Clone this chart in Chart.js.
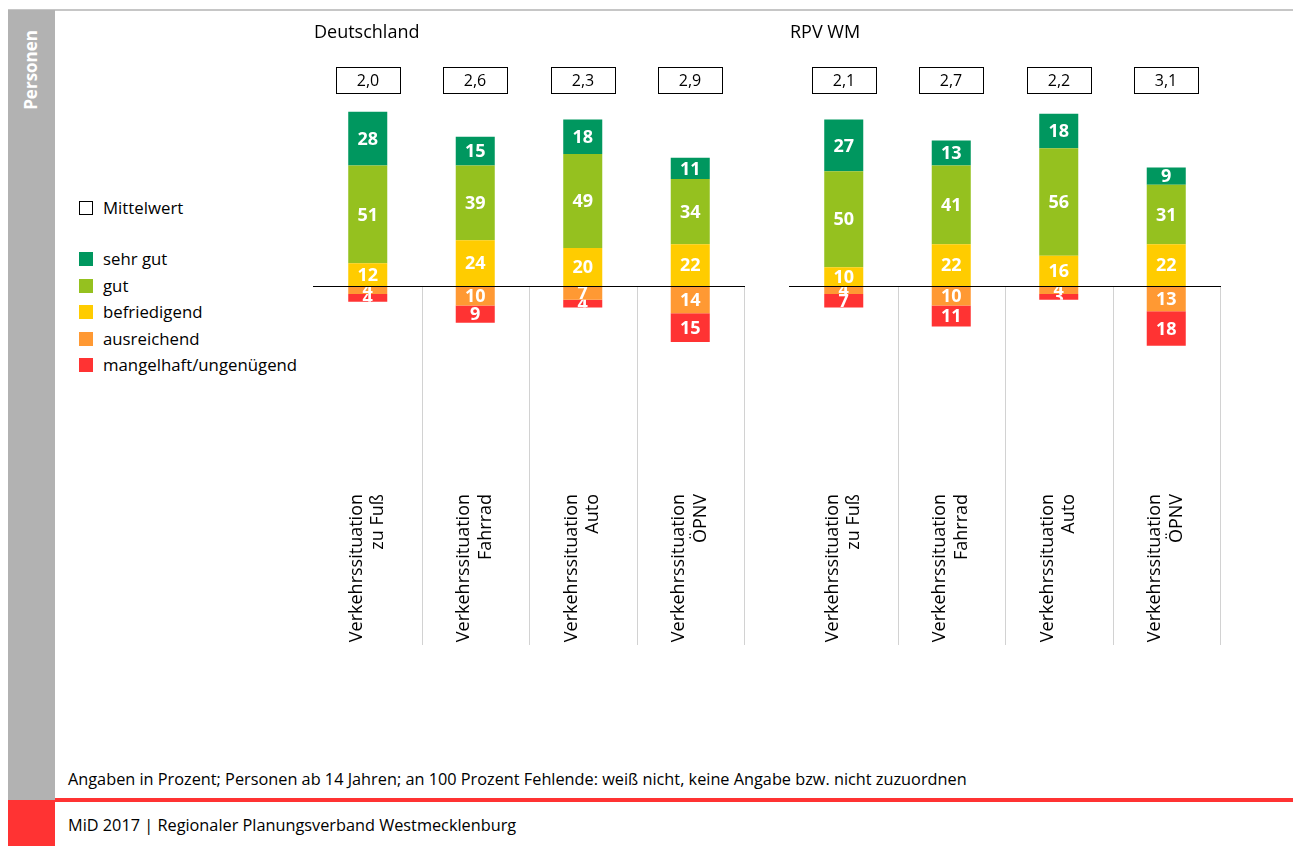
<!DOCTYPE html>
<html lang="de">
<head>
<meta charset="utf-8">
<title>Verkehrssituation – Bewertung</title>
<script src="https://cdn.jsdelivr.net/npm/chart.js@4/dist/chart.umd.min.js"></script>
<style>
  body { margin: 0; width: 1293px; height: 846px; position: relative; overflow: hidden; background: #fff;
         font-family: "Open Sans", "Noto Sans", sans-serif; color: #000; }
  .topline { position: absolute; left: 8px; right: 0; top: 9px; height: 2px; background: #c6c6c6; }
  .side { position: absolute; left: 8px; top: 10px; width: 47px; height: 790px; background: #b2b2b2; }
  .side span { position: absolute; left: 12px; top: 20px; writing-mode: vertical-rl; transform: rotate(180deg);
               color: #fff; font-weight: bold; font-size: 17px; line-height: 22px; }
  .redline { position: absolute; left: 55px; right: 0; top: 798px; height: 4px; background: #ff3333; }
  .redblock { position: absolute; left: 8px; top: 800px; width: 47px; height: 46px; background: #ff3333; }
  .note { position: absolute; left: 68px; top: 768px; font-size: 16.3px; white-space: nowrap; }
  .source { position: absolute; left: 68px; top: 814px; font-size: 16.3px; white-space: nowrap; }
  .legend { position: absolute; left: 79px; top: 198px; font-size: 16.8px; }
  .legend div { position: absolute; left: 0; white-space: nowrap; height: 20px; line-height: 20px; }
  .legend i { position: absolute; left: 0; top: 3px; width: 14px; height: 14px; }
  .legend b { position: absolute; left: 24px; top: 0; font-weight: normal; }
  canvas { position: absolute; top: 20px; }
</style>
</head>
<body>
<div class="topline"></div>
<div class="side"><span>Personen</span></div>
<div class="legend" id="legend"></div>
<canvas id="de" width="434" height="625" style="left:313px"></canvas>
<canvas id="rpv" width="434" height="625" style="left:789px"></canvas>
<div class="note">Angaben in Prozent; Personen ab 14 Jahren; an 100 Prozent Fehlende: weiß nicht, keine Angabe bzw. nicht zuzuordnen</div>
<div class="redline"></div>
<div class="redblock"></div>
<div class="source">MiD 2017 | Regionaler Planungsverband Westmecklenburg</div>
<script>
const categories = [
  ["Verkehrssituation", "zu Fuß"],
  ["Verkehrssituation", "Fahrrad"],
  ["Verkehrssituation", "Auto"],
  ["Verkehrssituation", "ÖPNV"]
];
const ratings = ["sehr gut", "gut", "befriedigend", "ausreichend", "mangelhaft/ungenügend"];
const ratingColors = ["#00975f", "#95c11f", "#ffcc00", "#ff9933", "#ff3333"];

// Deutschland
const deSehrGut = [28, 15, 18, 11];
const deGut = [51, 39, 49, 34];
const deBefriedigend = [12, 24, 20, 22];
const deAusreichend = [4, 10, 7, 14];
const deMangelhaft = [4, 9, 4, 15];
const deMittelwert = [2.0, 2.6, 2.3, 2.9];

// RPV WM
const rpvSehrGut = [27, 13, 18, 9];
const rpvGut = [50, 41, 56, 31];
const rpvBefriedigend = [10, 22, 16, 22];
const rpvAusreichend = [4, 10, 4, 13];
const rpvMangelhaft = [7, 11, 3, 18];
const rpvMittelwert = [2.1, 2.7, 2.2, 3.1];

const FONT = '"Open Sans", "Noto Sans", sans-serif';

// legend on the left
const legend = document.getElementById("legend");
legend.innerHTML =
  '<div style="top:0"><i style="border:1px solid #000;width:12px;height:12px;background:#fff"></i><b>Mittelwert</b></div>' +
  ratings.map((r, i) =>
    `<div style="top:${51 + i * 26.5}px"><i style="background:${ratingColors[i]}"></i><b>${r}</b></div>`
  ).join("");

// white numbers in every segment, clipped to the segment
const segmentLabels = {
  id: "segmentLabels",
  afterDatasetsDraw(chart) {
    const ctx = chart.ctx;
    chart.data.datasets.forEach((ds, i) => {
      chart.getDatasetMeta(i).data.forEach((bar, j) => {
        const { x, y, base, width } = bar.getProps(["x", "y", "base", "width"], true);
        const top = Math.min(y, base), h = Math.abs(base - y);
        ctx.save();
        ctx.beginPath();
        ctx.rect(x - width / 2, top, width, h);
        ctx.clip();
        ctx.fillStyle = "#fff";
        ctx.font = "bold 18px " + FONT;
        ctx.textAlign = "center";
        ctx.textBaseline = "middle";
        ctx.fillText(Math.abs(ds.data[j]), x, top + h / 2 + 1);
        ctx.restore();
      });
    });
  }
};

// zero line, column separators and mean value boxes
const frame = {
  id: "frame",
  afterDatasetsDraw(chart, args, opts) {
    const ctx = chart.ctx, xs = chart.scales.x, ys = chart.scales.y, area = chart.chartArea;
    const zero = Math.round(ys.getPixelForValue(0)) + 0.5;
    const step = xs.getPixelForValue(1) - xs.getPixelForValue(0);
    ctx.save();
    ctx.strokeStyle = "#d2d2d2";
    ctx.lineWidth = 1;
    for (let i = 0; i < xs.ticks.length; i++) {
      const sx = Math.round(xs.getPixelForValue(i) + step / 2) + 0.5;
      ctx.beginPath();
      ctx.moveTo(sx, zero);
      ctx.lineTo(sx, chart.height);
      ctx.stroke();
    }
    ctx.strokeStyle = "#000";
    ctx.beginPath();
    ctx.moveTo(area.left - 1, zero);
    ctx.lineTo(area.right + 1, zero);
    ctx.stroke();

    ctx.font = "16px " + FONT;
    ctx.textAlign = "center";
    ctx.textBaseline = "middle";
    ctx.fillStyle = "#000";
    opts.means.forEach((m, i) => {
      const cx = Math.round(xs.getPixelForValue(i));
      const top = Math.round(area.top) - 28;
      ctx.strokeRect(cx - 32 + 0.5, top + 0.5, 64, 26);
      ctx.fillText(m.toFixed(1).replace(".", ","), cx, top + 14);
    });
    ctx.restore();
  }
};

function makeChart(id, title, sehrGut, gut, befriedigend, ausreichend, mangelhaft, means) {
  const bar = (label, data, color) => ({
    label, data, backgroundColor: color, borderWidth: 0,
    barPercentage: 0.363, categoryPercentage: 1
  });
  new Chart(document.getElementById(id), {
    type: "bar",
    data: {
      labels: categories,
      datasets: [
        bar(ratings[2], befriedigend, ratingColors[2]),
        bar(ratings[1], gut, ratingColors[1]),
        bar(ratings[0], sehrGut, ratingColors[0]),
        bar(ratings[3], ausreichend.map(v => -v), ratingColors[3]),
        bar(ratings[4], mangelhaft.map(v => -v), ratingColors[4])
      ]
    },
    options: {
      responsive: false,
      animation: false,
      layout: { padding: { left: 1, right: 3, top: 0, bottom: 0 } },
      scales: {
        x: {
          stacked: true,
          grid: { display: false },
          border: { display: false },
          ticks: {
            color: "#000", font: { family: FONT, size: 18, lineHeight: 1.2 },
            minRotation: 90, maxRotation: 90, autoSkip: false,
            padding: 8, labelOffset: -11
          },
          afterFit(scale) { scale.height = 167; }
        },
        y: { stacked: true, min: -100, max: 100, display: false }
      },
      plugins: {
        legend: { display: false },
        tooltip: { enabled: false },
        title: {
          display: true, text: title, align: "start", color: "#000",
          font: { family: FONT, size: 18, weight: "normal" },
          padding: { top: 2, bottom: 51 }
        },
        frame: { means }
      }
    },
    plugins: [segmentLabels, frame]
  });
}

makeChart("de", "Deutschland", deSehrGut, deGut, deBefriedigend, deAusreichend, deMangelhaft, deMittelwert);
makeChart("rpv", "RPV WM", rpvSehrGut, rpvGut, rpvBefriedigend, rpvAusreichend, rpvMangelhaft, rpvMittelwert);
</script>
</body>
</html>
